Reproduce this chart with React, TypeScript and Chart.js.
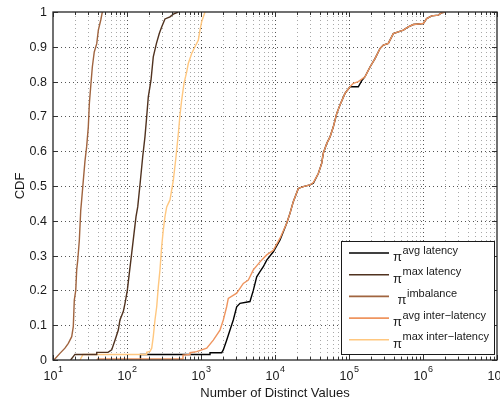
import React, { useEffect, useRef } from 'react';
import { Chart, registerables } from 'chart.js';

Chart.register(...registerables);

const seriesLabels = ['avg latency', 'max latency', 'imbalance', 'avg inter\u2212latency', 'max inter\u2212latency'];
const seriesColors = ['#000000', '#50321f', '#a0643f', '#ef955f', '#ffc77f'];

const avgLatencyX = [150, 152, 1300, 1323, 1905, 2001, 2222, 2465, 2731, 3035, 3364, 4592, 5093, 5660, 6270, 6950, 7725, 9490, 11690, 14390, 15960, 17670, 20650, 24120, 29700, 32950, 38480, 42740, 44950, 50000, 55380, 61400, 68200, 75500, 88300, 103200, 133600, 150000, 164500, 192300, 224600, 262300, 291000, 339800, 397000, 463700, 541700, 632700, 739000, 1009000, 1122000, 1311000, 1611000, 1791000, 1983000];
const avgLatencyY = [0, 0.016, 0.016, 0.021, 0.021, 0.029, 0.057, 0.086, 0.115, 0.153, 0.163, 0.168, 0.2, 0.239, 0.254, 0.268, 0.287, 0.311, 0.345, 0.393, 0.422, 0.455, 0.493, 0.498, 0.503, 0.508, 0.536, 0.565, 0.594, 0.622, 0.641, 0.67, 0.708, 0.733, 0.766, 0.785, 0.785, 0.804, 0.814, 0.842, 0.866, 0.895, 0.905, 0.91, 0.938, 0.943, 0.948, 0.957, 0.964, 0.967, 0.981, 0.989, 0.991, 0.998, 1.0];

const maxLatencyX = [17.3, 19.8, 38.5, 39, 55.4, 62.1, 68.8, 76.3, 80.3, 89.1, 94, 101, 107.4, 115.8, 124.4, 132.4, 139.6, 150, 163, 175, 184.5, 194, 211, 226.5, 250, 273, 294, 326, 381, 423, 494];
const maxLatencyY = [0, 0.016, 0.016, 0.022, 0.022, 0.029, 0.057, 0.086, 0.115, 0.139, 0.163, 0.2, 0.249, 0.307, 0.364, 0.412, 0.44, 0.505, 0.584, 0.642, 0.699, 0.756, 0.804, 0.871, 0.91, 0.938, 0.957, 0.98, 0.986, 0.994, 1.0];

const imbalanceX = [10.3, 12.4, 14.5, 16.1, 17.9, 18.8, 19.4, 20.3, 20.9, 21.6, 22.7, 23.7, 24.4, 25.7, 27, 28.5, 30, 31, 32.3, 34, 36.1, 39, 41, 44.2, 46.4];
const imbalanceY = [0, 0.019, 0.034, 0.048, 0.067, 0.096, 0.172, 0.2, 0.259, 0.287, 0.345, 0.43, 0.46, 0.517, 0.57, 0.613, 0.67, 0.737, 0.785, 0.842, 0.885, 0.909, 0.948, 0.977, 1.0];

const avgInterX = [39.3, 40, 560, 571, 700, 710, 875, 1195, 1467, 1806, 2001, 2222, 2337, 3035, 3730, 4360, 5093, 6270, 7725, 9490, 11690, 14390, 15960, 17670, 20650, 24120, 29700, 32950, 38480, 42740, 44950, 50000, 55380, 61400, 68200, 75500, 88300, 103200, 114400, 133600, 164500, 192300, 224600, 262300, 291000, 339800, 397000, 463700, 541700, 632700, 739000, 1009000, 1122000, 1311000, 1611000, 1791000, 1983000];
const avgInterY = [0, 0.003, 0.003, 0.014, 0.016, 0.021, 0.024, 0.034, 0.057, 0.086, 0.115, 0.153, 0.177, 0.192, 0.22, 0.23, 0.259, 0.282, 0.302, 0.315, 0.35, 0.393, 0.422, 0.455, 0.493, 0.498, 0.503, 0.51, 0.536, 0.565, 0.594, 0.622, 0.641, 0.67, 0.708, 0.733, 0.766, 0.785, 0.795, 0.8, 0.814, 0.842, 0.866, 0.895, 0.905, 0.91, 0.938, 0.943, 0.948, 0.957, 0.964, 0.967, 0.981, 0.989, 0.991, 0.998, 1.0];

const maxInterX = [23.2, 25.4, 184, 184.5, 204.6, 215.8, 226.5, 238.8, 252, 264.8, 279, 294, 309.5, 326, 343.8, 381, 423, 459.5, 494, 520, 548, 589, 641, 673, 748, 829, 920, 969, 1021, 1132];
const maxInterY = [0, 0.016, 0.016, 0.022, 0.025, 0.034, 0.067, 0.115, 0.153, 0.21, 0.259, 0.326, 0.374, 0.412, 0.44, 0.46, 0.517, 0.584, 0.651, 0.704, 0.747, 0.795, 0.828, 0.852, 0.881, 0.9, 0.919, 0.948, 0.972, 1.0];

const seriesX = [avgLatencyX, maxLatencyX, imbalanceX, avgInterX, maxInterX];
const seriesY = [avgLatencyY, maxLatencyY, imbalanceY, avgInterY, maxInterY];
const seriesOrder = [2, 1, 1, 0, 1];

const yTicks = [0, 0.1, 0.2, 0.3, 0.4, 0.5, 0.6, 0.7, 0.8, 0.9, 1];
const yTickLabels = ['0', '0.1', '0.2', '0.3', '0.4', '0.5', '0.6', '0.7', '0.8', '0.9', '1'];
const xExponents = [1, 2, 3, 4, 5, 6, 7];
const xTitle = 'Number of Distinct Values';
const yTitle = 'CDF';

const FONT = '"Liberation Sans", Arial, Helvetica, sans-serif';

const decorPlugin = {
  id: 'matlabDecor',
  beforeDatasetsDraw(chart: any) {
    const { ctx, chartArea: a, scales } = chart;
    const xs = scales.x;
    const ys = scales.y;
    ctx.save();
    ctx.lineWidth = 1;
    ctx.setLineDash([1, 3]);
    const vline = (px: number) => {
      ctx.beginPath();
      ctx.moveTo(px, a.top);
      ctx.lineTo(px, a.bottom);
      ctx.stroke();
    };
    ctx.strokeStyle = '#a8a8a8';
    for (let i = 0; i < xExponents.length - 1; i++) {
      for (let m = 2; m <= 9; m++) {
        vline(Math.round(xs.getPixelForValue(m * Math.pow(10, xExponents[i]))) + 0.5);
      }
    }
    ctx.strokeStyle = '#555';
    for (let i = 1; i < xExponents.length - 1; i++) {
      vline(Math.round(xs.getPixelForValue(Math.pow(10, xExponents[i]))) + 0.5);
    }
    for (let i = 1; i < yTicks.length - 1; i++) {
      const py = Math.round(ys.getPixelForValue(yTicks[i])) + 0.5;
      ctx.beginPath();
      ctx.moveTo(a.left, py);
      ctx.lineTo(a.right, py);
      ctx.stroke();
    }
    ctx.restore();
  },
  afterDatasetsDraw(chart: any) {
    const { ctx, chartArea: a, scales } = chart;
    const xs = scales.x;
    const ys = scales.y;
    ctx.save();
    ctx.setLineDash([]);
    ctx.strokeStyle = '#333';
    ctx.lineWidth = 1;
    const seg = (x1: number, y1: number, x2: number, y2: number) => {
      ctx.beginPath();
      ctx.moveTo(x1, y1);
      ctx.lineTo(x2, y2);
      ctx.stroke();
    };
    // tick marks
    for (let i = 0; i < xExponents.length; i++) {
      const px = Math.round(xs.getPixelForValue(Math.pow(10, xExponents[i]))) + 0.5;
      seg(px, a.bottom, px, a.bottom - 5);
      seg(px, a.top, px, a.top + 5);
      if (i < xExponents.length - 1) {
        for (let m = 2; m <= 9; m++) {
          const p = Math.round(xs.getPixelForValue(m * Math.pow(10, xExponents[i]))) + 0.5;
          seg(p, a.bottom, p, a.bottom - 3);
          seg(p, a.top, p, a.top + 3);
        }
      }
    }
    for (let i = 0; i < yTicks.length; i++) {
      const py = Math.round(ys.getPixelForValue(yTicks[i])) + 0.5;
      seg(a.left, py, a.left + 5, py);
      seg(a.right, py, a.right - 5, py);
    }
    // box
    ctx.lineWidth = 1.3;
    ctx.strokeStyle = '#262626';
    ctx.strokeRect(a.left, a.top, a.right - a.left, a.bottom - a.top);

    // y tick labels
    ctx.fillStyle = '#1a1a1a';
    ctx.font = `12.5px ${FONT}`;
    ctx.textAlign = 'right';
    ctx.textBaseline = 'middle';
    for (let i = 0; i < yTicks.length; i++) {
      ctx.fillText(yTickLabels[i], a.left - 6, ys.getPixelForValue(yTicks[i]) + 0.5);
    }
    // x tick labels
    ctx.textAlign = 'left';
    ctx.textBaseline = 'alphabetic';
    for (let i = 0; i < xExponents.length; i++) {
      const px = xs.getPixelForValue(Math.pow(10, xExponents[i]));
      ctx.font = `12.5px ${FONT}`;
      const w1 = ctx.measureText('10').width;
      ctx.font = `9px ${FONT}`;
      const w2 = ctx.measureText(String(xExponents[i])).width;
      const x0 = px - (w1 + w2) / 2;
      ctx.font = `12.5px ${FONT}`;
      ctx.fillText('10', x0, a.bottom + 20);
      ctx.font = `9px ${FONT}`;
      ctx.fillText(String(xExponents[i]), x0 + w1 + 0.5, a.bottom + 12);
    }
    // axis titles
    ctx.font = `13px ${FONT}`;
    ctx.textAlign = 'center';
    ctx.textBaseline = 'alphabetic';
    ctx.fillText(xTitle, (a.left + a.right) / 2, 397);
    ctx.save();
    ctx.translate(24, (a.top + a.bottom) / 2);
    ctx.rotate(-Math.PI / 2);
    ctx.fillText(yTitle, 0, 0);
    ctx.restore();

    // legend
    const lx = 341, ly = 241, lw = 153, lh = 113;
    ctx.fillStyle = '#ffffff';
    ctx.fillRect(lx, ly, lw, lh);
    ctx.strokeStyle = '#1a1a1a';
    ctx.lineWidth = 1;
    ctx.strokeRect(lx + 0.5, ly + 0.5, lw, lh);
    for (let i = 0; i < seriesLabels.length; i++) {
      const row = 253 + i * 21.7;
      ctx.strokeStyle = seriesColors[i];
      ctx.lineWidth = 1.6;
      seg(349, row, 389, row);
      const tx = i === 2 ? 397.5 : 393;
      ctx.fillStyle = '#1a1a1a';
      ctx.textAlign = 'left';
      ctx.font = `13px ${FONT}`;
      ctx.fillText('\u03c0', tx, row + 8);
      const pw = ctx.measureText('\u03c0').width;
      ctx.font = `11px ${FONT}`;
      ctx.fillText(seriesLabels[i], tx + pw + 0.5, row + 0.5);
    }
    ctx.restore();
  },
};

export default function App() {
  const canvasRef = useRef<HTMLCanvasElement | null>(null);

  useEffect(() => {
    document.body.style.margin = '0';
    const canvas = canvasRef.current;
    if (!canvas) return;
    const datasets = seriesLabels.map((label, i) => ({
      label,
      data: seriesX[i].map((x, j) => ({ x, y: seriesY[i][j] })),
      borderColor: seriesColors[i],
      backgroundColor: seriesColors[i],
      borderWidth: 1.4,
      pointRadius: 0,
      tension: 0,
      fill: false,
      order: seriesOrder[i],
    }));
    const chart = new Chart(canvas, {
      type: 'line',
      data: { datasets },
      options: {
        animation: false,
        responsive: true,
        maintainAspectRatio: false,
        layout: { padding: { top: 12, right: 3, left: 0, bottom: 0 } },
        plugins: { legend: { display: false }, tooltip: { enabled: false } },
        scales: {
          x: {
            type: 'logarithmic',
            min: 10,
            max: 1e7,
            grid: { display: false },
            border: { display: false },
            ticks: { display: false },
            afterFit: (s: any) => { s.height = 40; },
          },
          y: {
            type: 'linear',
            min: 0,
            max: 1,
            grid: { display: false },
            border: { display: false },
            ticks: { display: false },
            afterFit: (s: any) => { s.width = 53; },
          },
        },
      } as any,
      plugins: [decorPlugin],
    });
    return () => chart.destroy();
  }, []);

  return (
    <div style={{ position: 'absolute', left: 0, top: 0, width: 500, height: 400, background: '#fff' }}>
      <canvas ref={canvasRef} />
    </div>
  );
}
